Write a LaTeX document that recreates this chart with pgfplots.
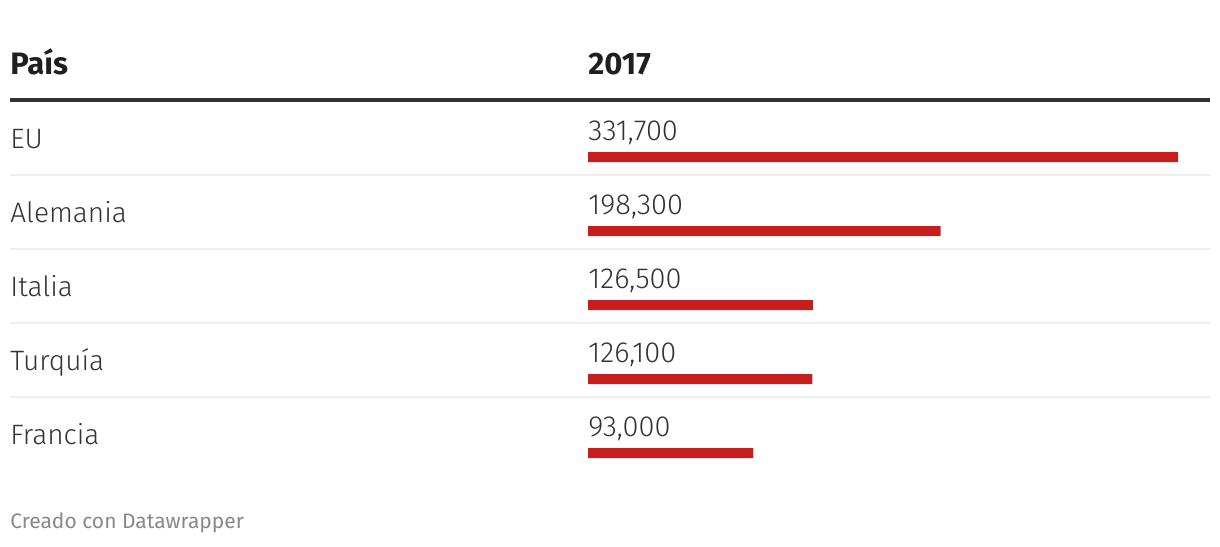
\documentclass[border=0pt]{standalone}
\usepackage{pgfplots}
\pgfplotsset{compat=1.18}
\usepackage{fontspec}
\setmainfont{Fira Sans}[UprightFont={* Light},BoldFont={* Bold}]
\newfontfamily\regfont{Fira Sans}
\definecolor{barred}{HTML}{C71E1D}
\definecolor{rulegray}{HTML}{333333}
\definecolor{sepgray}{HTML}{EEEEEE}
\definecolor{txt}{HTML}{333333}
\definecolor{foot}{HTML}{888888}
\begin{document}
\begin{tikzpicture}
\useasboundingbox (0,0) rectangle (610pt,273pt);
\begin{axis}[at={(0,0)},anchor=south west,
  xmin=0,xmax=1220,ymin=0,ymax=546,y dir=reverse,
  width=610pt,height=273pt,scale only axis,hide axis,clip=false]
  \draw[rulegray,line width=2pt] (axis cs:10,100) -- (axis cs:1210,100);
  \draw[sepgray,line width=1pt] (axis cs:10,175) -- (axis cs:1210,175);
  \draw[sepgray,line width=1pt] (axis cs:10,249) -- (axis cs:1210,249);
  \draw[sepgray,line width=1pt] (axis cs:10,323) -- (axis cs:1210,323);
  \draw[sepgray,line width=1pt] (axis cs:10,397) -- (axis cs:1210,397);
  \tikzset{lab/.style={inner sep=0pt,anchor=base west,font=\fontsize{14pt}{16pt}\selectfont,text=txt},
           val/.style={inner sep=0pt,anchor=base west,font=\fontsize{14.5pt}{16pt}\selectfont,text=txt}}
  \node[inner sep=0pt,anchor=base west,font=\fontsize{15.5pt}{18pt}\selectfont\bfseries,text=black!88] at (axis cs:10,74) {País};
  \node[inner sep=0pt,anchor=base west,font=\fontsize{15.5pt}{18pt}\selectfont\bfseries,text=black!88] at (axis cs:588,74) {2017};
  \node[lab] at (axis cs:10,148) {EU};
  \node[lab] at (axis cs:10,222) {Alemania};
  \node[lab] at (axis cs:10,296) {Italia};
  \node[lab] at (axis cs:10,370) {Turquía};
  \node[lab] at (axis cs:10,444) {Francia};
  \node[val] at (axis cs:588,140) {331,700};
  \node[val] at (axis cs:588,214) {198,300};
  \node[val] at (axis cs:588,288) {126,500};
  \node[val] at (axis cs:588,362) {126,100};
  \node[val] at (axis cs:588,436) {93,000};
  \node[inner sep=0pt,anchor=base west,font=\regfont\fontsize{10.5pt}{12pt}\selectfont,text=foot] at (axis cs:10,528) {Creado con Datawrapper};
\end{axis}
\begin{axis}[at={(294pt,0)},anchor=south west,
  xmin=0,xmax=349690,ymin=0,ymax=546,y dir=reverse,
  width=311pt,height=273pt,scale only axis,hide axis,clip=false,
  xbar,bar width=5pt,bar shift=0pt]
  \addplot[fill=barred,draw=none] coordinates {(331700,157) (198300,231) (126500,305) (126100,379) (93000,453)};
\end{axis}
\end{tikzpicture}
\end{document}
